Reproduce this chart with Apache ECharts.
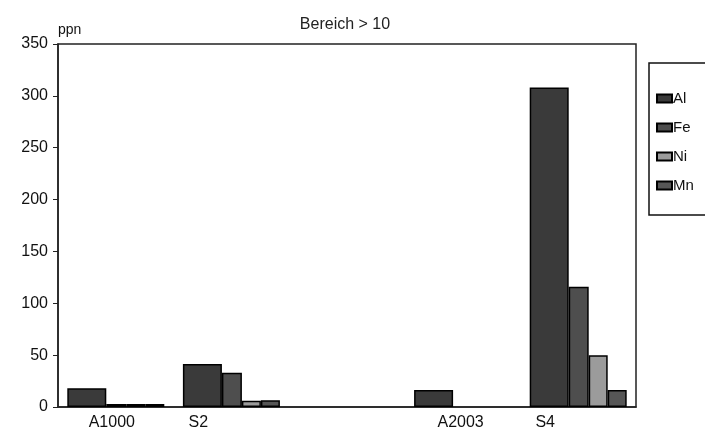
<!DOCTYPE html>
<html><head><meta charset="utf-8">
<script src="https://cdn.jsdelivr.net/npm/echarts@6/dist/echarts.min.js"></script>
<style>html,body{margin:0;padding:0;background:#fff}#c{width:705px;height:437px}</style>
</head><body><div id="c"></div>
<script>
var categories = ['A1000', 'S2', '', 'A2003', 'S4'];
var seriesNames = ['Al', 'Fe', 'Ni', 'Mn'];
var alValues = [18, 41.5, null, 16.5, 308];
var feValues = [3, 33, null, null, 116];
var niValues = [3, 6, null, null, 50];
var mnValues = [3, 6.5, null, null, 16.5];
var yTicks = [0, 50, 100, 150, 200, 250, 300, 350];
var labelShift = [4, 33, 0, 2, 33];

var colors = ['#3a3a3a', '#4e4e4e', '#9b9b9b', '#565656'];
var widths = [39, 20, 19, 19];
var data = [alValues, feValues, niValues, mnValues];
var font = 'Liberation Sans, Arial, sans-serif';
var chart = echarts.init(document.getElementById('c'));
var rich = {};
categories.forEach(function (c, i) { rich['l' + i] = { padding: [0, labelShift[i] * 2, 0, 0], fontSize: 16, fontFamily: font, color: '#111' }; });
chart.setOption({
  animation: false,
  title: { text: 'Bereich > 10', left: 340, textAlign: 'center', top: 12,
    textStyle: { fontSize: 16, fontWeight: 'normal', color: '#222', fontFamily: font } },
  legend: { orient: 'vertical', left: 651, top: 86, itemWidth: 15, itemHeight: 8, itemGap: 14,
    icon: 'rect', data: seriesNames,
    textStyle: { fontSize: 15, color: '#111', fontFamily: font, padding: [0, 0, 0, -4] } },
  graphic: [{ type: 'rect', shape: { x: 649, y: 63, width: 80, height: 152 },
    style: { fill: 'none', stroke: '#111', lineWidth: 1.5 } }],
  grid: { left: 58, right: 69, top: 44, bottom: 30, show: true, borderColor: '#222', borderWidth: 1.5, backgroundColor: 'transparent' },
  xAxis: { type: 'category', data: categories,
    axisLine: { lineStyle: { color: '#222', width: 1.5 } }, axisTick: { show: false },
    axisLabel: { margin: 8, formatter: function (v, i) { return '{l' + i + '|' + v + '}'; }, rich: rich } },
  yAxis: { type: 'value', min: 0, max: 350, interval: 50, name: 'ppn', nameGap: 7,
    nameTextStyle: { align: 'left', fontSize: 14, color: '#111', fontFamily: font },
    splitLine: { show: false },
    axisLine: { show: true, lineStyle: { color: '#222', width: 1.5 } },
    axisTick: { show: true, inside: false, length: 5, lineStyle: { color: '#222' } },
    axisLabel: { margin: 10, fontSize: 16, color: '#111', fontFamily: font,
      formatter: function (v) { return yTicks.indexOf(v) >= 0 ? String(v) : ''; } } },
  series: seriesNames.map(function (n, i) {
    return { name: n, type: 'bar', data: data[i], barWidth: widths[i], barGap: '0%',
      itemStyle: { color: colors[i], borderColor: '#000', borderWidth: 1.5 } };
  })
});
</script></body></html>
